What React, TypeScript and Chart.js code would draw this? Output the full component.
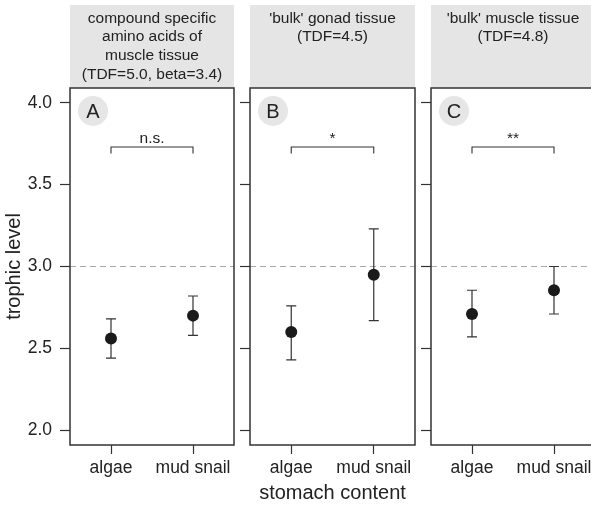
import React, { useEffect, useRef } from 'react';
import { Chart, registerables } from 'chart.js';
Chart.register(...registerables);

// ---- data ----
const categories = ['algae', 'mud snail'];
const panelLetters = ['A', 'B', 'C'];
const headerA = ['compound specific', 'amino acids of', 'muscle tissue', '(TDF=5.0, beta=3.4)'];
const headerB = ["'bulk' gonad tissue", '(TDF=4.5)'];
const headerC = ["'bulk' muscle tissue", '(TDF=4.8)'];

const meanA = [2.56, 2.70];
const lowerA = [2.44, 2.58];
const upperA = [2.68, 2.82];

const meanB = [2.60, 2.95];
const lowerB = [2.43, 2.67];
const upperB = [2.76, 3.23];

const meanC = [2.71, 2.855];
const lowerC = [2.57, 2.71];
const upperC = [2.855, 3.0];

const sigLabels = ['n.s.', '*', '**'];
const bracketY = 3.73;
const bracketTickY = 3.69;
const refLine = 3.0;
const yTicks = [2.0, 2.5, 3.0, 3.5, 4.0];
const yMin = 1.91;
const yMax = 4.09;

const panels = [
  { header: headerA, mean: meanA, lower: lowerA, upper: upperA },
  { header: headerB, mean: meanB, lower: lowerB, upper: upperB },
  { header: headerC, mean: meanC, lower: lowerC, upper: upperC },
];

// ---- layout / style ----
const FONT = "'Liberation Sans', Arial, Helvetica, sans-serif";
const layouts = [
  { left: 0, width: 242, axisW: 70 },
  { left: 240, width: 183, axisW: 10 },
  { left: 421, width: 182, axisW: 10 },
];
const H = 506;
const TEXT = '#222222';
const LINE = '#333333';

function makePlugin(idx: number) {
  const p = panels[idx];
  return {
    id: 'decor' + idx,
    beforeDatasetsDraw(chart: any) {
      const { ctx, chartArea: a, scales } = chart;
      const x = scales.x;
      const y = scales.y;
      ctx.save();
      // reference line
      ctx.strokeStyle = '#a8a8a8';
      ctx.lineWidth = 1.1;
      ctx.setLineDash([6, 4]);
      const yr = y.getPixelForValue(refLine);
      ctx.beginPath();
      ctx.moveTo(a.left, yr);
      ctx.lineTo(a.right, yr);
      ctx.stroke();
      ctx.setLineDash([]);
      // letter circle
      ctx.fillStyle = '#e6e6e6';
      ctx.beginPath();
      ctx.arc(a.left + 23, a.top + 23, 15, 0, Math.PI * 2);
      ctx.fill();
      ctx.fillStyle = TEXT;
      ctx.font = `20px ${FONT}`;
      ctx.textAlign = 'center';
      ctx.textBaseline = 'middle';
      ctx.fillText(panelLetters[idx], a.left + 23, a.top + 24);
      // error bars
      ctx.strokeStyle = LINE;
      ctx.lineWidth = 1.2;
      for (let i = 0; i < categories.length; i++) {
        const px = x.getPixelForValue(i + 1);
        const lo = y.getPixelForValue(p.lower[i]);
        const hi = y.getPixelForValue(p.upper[i]);
        ctx.beginPath();
        ctx.moveTo(px, lo);
        ctx.lineTo(px, hi);
        ctx.moveTo(px - 5, lo);
        ctx.lineTo(px + 5, lo);
        ctx.moveTo(px - 5, hi);
        ctx.lineTo(px + 5, hi);
        ctx.stroke();
      }
      // significance bracket
      const x1 = x.getPixelForValue(1);
      const x2 = x.getPixelForValue(2);
      const by = y.getPixelForValue(bracketY);
      const bt = y.getPixelForValue(bracketTickY);
      ctx.lineWidth = 1.1;
      ctx.beginPath();
      ctx.moveTo(x1, bt);
      ctx.lineTo(x1, by);
      ctx.lineTo(x2, by);
      ctx.lineTo(x2, bt);
      ctx.stroke();
      ctx.fillStyle = TEXT;
      ctx.font = `15.5px ${FONT}`;
      ctx.textAlign = 'center';
      ctx.textBaseline = 'alphabetic';
      ctx.fillText(sigLabels[idx], (x1 + x2) / 2, by - 4);
      ctx.restore();
    },
    afterDraw(chart: any) {
      const { ctx, chartArea: a } = chart;
      ctx.save();
      // header strip
      ctx.fillStyle = '#e5e5e5';
      ctx.fillRect(a.left, 5, a.right - a.left, a.top - 5);
      ctx.fillStyle = TEXT;
      ctx.font = `15.5px ${FONT}`;
      ctx.textAlign = 'center';
      ctx.textBaseline = 'middle';
      const cx = (a.left + a.right) / 2;
      p.header.forEach((line, i) => {
        ctx.fillText(line, cx, 18.5 + i * 18.7);
      });
      // border
      ctx.strokeStyle = LINE;
      ctx.lineWidth = 1.5;
      ctx.strokeRect(a.left, a.top, a.right - a.left, a.bottom - a.top);
      ctx.restore();
    },
  };
}

function Panel({ idx }: { idx: number }) {
  const ref = useRef<HTMLCanvasElement>(null);
  useEffect(() => {
    const lay = layouts[idx];
    const p = panels[idx];
    const chart = new Chart(ref.current as HTMLCanvasElement, {
      type: 'scatter',
      data: {
        datasets: [
          {
            data: p.mean.map((m, i) => ({ x: i + 1, y: m })),
            pointRadius: 6,
            pointHoverRadius: 6,
            backgroundColor: '#1a1a1a',
            borderWidth: 0,
          },
        ],
      },
      options: {
        animation: false,
        responsive: false,
        devicePixelRatio: 1,
        events: [],
        layout: { padding: { top: 88, right: 8, bottom: 0, left: 0 } },
        plugins: {
          legend: { display: false },
          tooltip: { enabled: false },
          title: { display: false },
        },
        scales: {
          x: {
            type: 'linear',
            min: 0.5,
            max: 2.5,
            afterBuildTicks: (scale: any) => {
              scale.ticks = categories.map((_, i) => ({ value: i + 1 }));
            },
            afterFit: (scale: any) => {
              scale.height = 61;
            },
            ticks: {
              callback: (v: any) => categories[Math.round(Number(v)) - 1] ?? '',
              font: { family: FONT, size: 17.5 },
              color: TEXT,
              padding: 4,
              maxRotation: 0,
              autoSkip: false,
            },
            grid: {
              drawOnChartArea: false,
              drawTicks: true,
              tickLength: 9,
              tickColor: LINE,
              tickWidth: 1.2,
            },
            border: { display: false },
            title: {
              display: idx === 1,
              text: 'stomach content',
              font: { family: FONT, size: 20 },
              color: TEXT,
              padding: { top: 0, bottom: 1 },
            },
          },
          y: {
            type: 'linear',
            min: yMin,
            max: yMax,
            afterBuildTicks: (scale: any) => {
              scale.ticks = yTicks.map((v) => ({ value: v }));
            },
            afterFit: (scale: any) => {
              scale.width = lay.axisW;
            },
            ticks: {
              callback: (v: any) => (idx === 0 ? Number(v).toFixed(1) : ''),
              font: { family: FONT, size: 17.5 },
              color: TEXT,
              padding: 8,
              autoSkip: false,
            },
            grid: {
              drawOnChartArea: false,
              drawTicks: true,
              tickLength: 10,
              tickColor: LINE,
              tickWidth: 1.2,
            },
            border: { display: false },
            title: {
              display: idx === 0,
              text: 'trophic level',
              font: { family: FONT, size: 20 },
              color: TEXT,
              padding: { top: 2, bottom: 0 },
            },
          },
        },
      },
      plugins: [makePlugin(idx)],
    } as any);
    return () => chart.destroy();
  }, [idx]);
  const lay = layouts[idx];
  return (
    <canvas
      ref={ref}
      width={lay.width}
      height={H}
      style={{ position: 'absolute', left: lay.left, top: 0, width: lay.width, height: H }}
    />
  );
}

export default function App() {
  return (
    <div
      style={{
        position: 'absolute',
        left: 0,
        top: 0,
        width: 591,
        height: 506,
        overflow: 'hidden',
        background: '#ffffff',
      }}
    >
      {panels.map((_, i) => (
        <Panel key={i} idx={i} />
      ))}
    </div>
  );
}
